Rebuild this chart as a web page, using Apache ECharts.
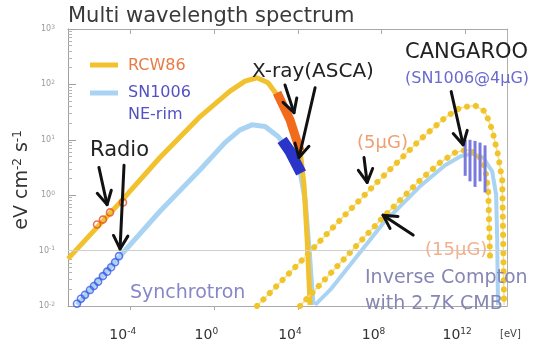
<!DOCTYPE html>
<html>
<head>
<meta charset="utf-8">
<script src="https://cdn.jsdelivr.net/npm/echarts@6/dist/echarts.min.js"></script>
<style>
html, body { margin: 0; padding: 0; background: #fff; }
#chart { width: 546px; height: 351px; }
</style>
</head>
<body>
<div id="chart"></div>
<script>
// Axes are in decades: x = log10(E / eV), y = log10(flux / eV cm^-2 s^-1)
const xTickValues = [-4, 0, 4, 8, 12];
const xTickLabels = ['10{s|-4}', '10{s|0}', '10{s|4}', '10{s|8}', '10{s|12}'];
const yTickValues = [-2, -1, 0, 1, 2, 3];
const yTickLabels = ['10{s|-2}', '10{s|-1}', '10{s|0}', '10{s|1}', '10{s|2}', '10{s|3}'];

// Synchrotron model spectra
const rcw86Sync = [[-7.00, -1.15], [-4.51, -0.13], [-2.60, 0.68], [-0.68, 1.42], [0.75, 1.88],
  [1.47, 2.06], [2.04, 2.12], [2.57, 2.03], [3.05, 1.78], [3.62, 1.36], [4.10, 0.82],
  [4.29, 0.19], [4.44, -0.80], [4.58, -1.98]];
const sn1006Sync = [[-6.57, -1.98], [-4.51, -1.10], [-2.60, -0.29], [-0.68, 0.46], [0.51, 0.95],
  [1.23, 1.18], [1.80, 1.27], [2.43, 1.24], [3.05, 1.06], [3.62, 0.79], [4.10, 0.43],
  [4.34, -0.08], [4.53, -0.97], [4.72, -1.98]];

// ASCA X-ray bands
const rcw86Xray = [[3.00, 1.85], [3.62, 1.36], [4.10, 0.80]];
const sn1006Xray = [[3.24, 1.00], [3.62, 0.79], [4.15, 0.40]];

// Radio points
const rcw86Radio = [[-5.61, -0.53], [-5.33, -0.44], [-4.99, -0.31], [-4.37, -0.13]];
const sn1006Radio = [[-6.57, -1.96], [-6.38, -1.87], [-6.19, -1.80], [-5.95, -1.71], [-5.76, -1.64],
  [-5.56, -1.56], [-5.33, -1.46], [-5.13, -1.38], [-4.94, -1.30], [-4.75, -1.21], [-4.56, -1.10]];

// Inverse Compton on the 2.7 K CMB
const ic5uG = [[2.04, -2.00], [4.10, -1.21], [6.01, -0.45], [7.78, 0.23], [9.84, 1.00], [11.04, 1.40],
  [11.76, 1.58], [12.47, 1.62], [12.95, 1.51], [13.29, 1.18], [13.57, 0.73], [13.77, 0.28],
  [13.81, -0.62], [13.86, -1.98]];
const ic15uG = [[4.10, -2.00], [6.01, -1.23], [8.07, -0.40], [9.84, 0.27], [10.80, 0.59], [11.52, 0.77],
  [12.09, 0.82], [12.62, 0.73], [12.95, 0.50], [13.10, 0.10], [13.14, -0.44], [13.19, -1.12]];
const icSN1006 = [[4.82, -1.98], [5.54, -1.71], [8.07, -0.51], [9.84, 0.16], [11.04, 0.54], [11.76, 0.70],
  [12.33, 0.75], [12.86, 0.68], [13.29, 0.43], [13.48, 0.01], [13.53, -0.79], [13.57, -1.98]];

// CANGAROO TeV points: [log E, upper, lower]
const cangaroo = [[12.00, 1.00, 0.35], [12.23, 1.00, 0.25], [12.47, 0.98, 0.15], [12.71, 0.95, 0.25], [12.95, 0.90, 0.05]];

// Pointer arrows: [tail x, tail y, tip x, tip y]
const arrows = [
  [-5.52, 0.50, -5.13, -0.17],
  [-4.32, 0.54, -4.51, -0.97],
  [3.38, 1.99, 3.81, 1.49],
  [4.82, 1.94, 4.05, 0.68],
  [7.16, 0.68, 7.31, 0.23],
  [11.33, 1.87, 11.90, 0.91],
  [9.51, -0.72, 8.07, -0.36]
];

// log-spaced minor ticks between decades
const yMinor = [];
for (let d = -2; d < 3; d++) for (let k = 2; k <= 9; k++) yMinor.push(d + Math.log10(k));

const FONT = 'DejaVu Sans';
const YELLOW = '#f2c12e';
const LBLUE = '#a9d3f2';
const DOT = '#f0c52c';

const chart = echarts.init(document.getElementById('chart'), null, { renderer: 'canvas' });

function dotted(name, data) {
  return [{
    name: name + '-base', type: 'line', data, symbol: 'none', silent: true, z: 3,
    lineStyle: { color: '#f6df8c', width: 1.5 }
  }, {
    name, type: 'line', data, symbol: 'none', silent: true, z: 4,
    lineStyle: { color: DOT, width: 6, type: [0.1, 9], cap: 'round' }
  }];
}

function txt(x, y, text, size, color, extra) {
  return {
    type: 'text', x, y, silent: true, z: 100,
    style: Object.assign({
      text, fill: color, font: size + 'px "' + FONT + '"',
      textAlign: 'left', textVerticalAlign: 'middle'
    }, extra || {})
  };
}

const option = {
  animation: false,
  backgroundColor: '#fff',
  grid: { left: 68, right: 39, top: 29, bottom: 45, show: false },
  xAxis: [{
    type: 'value', min: -7, max: 14, position: 'bottom',
    axisLine: { show: true, onZero: false, lineStyle: { color: '#a8a8a8', width: 1 } },
    axisTick: { show: true, customValues: xTickValues, length: 4, lineStyle: { color: '#a8a8a8' } },
    axisLabel: {
      show: true, customValues: xTickValues, margin: 21, padding: [0, 16, 0, 0],
      formatter: v => xTickLabels[xTickValues.indexOf(v)],
      color: '#333', fontSize: 14, fontFamily: FONT,
      rich: { s: { fontSize: 9, fontFamily: FONT, color: '#333', padding: [0, 0, 7, 0] } }
    },
    splitLine: { show: false }
  }, {
    type: 'value', min: -7, max: 14, position: 'top',
    axisLine: { show: true, onZero: false, lineStyle: { color: '#a8a8a8', width: 1 } },
    axisTick: { show: true, inside: true, customValues: xTickValues, length: 5, lineStyle: { color: '#a8a8a8' } },
    axisLabel: { show: false },
    splitLine: { show: false }
  }],
  yAxis: [{
    type: 'value', min: -2, max: 3, position: 'left',
    axisLine: { show: true, onZero: false, lineStyle: { color: '#a0a0a0', width: 1 } },
    axisTick: { show: true, inside: true, customValues: yTickValues, length: 8, lineStyle: { color: '#a0a0a0' } },
    axisLabel: {
      show: true, customValues: yTickValues, margin: 13,
      formatter: v => yTickLabels[yTickValues.indexOf(v)],
      color: '#9a9a9a', fontSize: 8, fontFamily: FONT,
      rich: { s: { fontSize: 6, fontFamily: FONT, color: '#9a9a9a', padding: [0, 0, 4, 0] } }
    },
    splitLine: { show: false }
  }, {
    type: 'value', min: -2, max: 3, position: 'left',
    axisLine: { show: false, onZero: false },
    axisTick: { show: true, inside: true, customValues: yMinor, length: 4, lineStyle: { color: '#b4b4b4' } },
    axisLabel: { show: false },
    splitLine: { show: false }
  }, {
    type: 'value', min: -2, max: 3, position: 'right',
    axisLine: { show: true, onZero: false, lineStyle: { color: '#b0b0b0', width: 1 } },
    axisTick: { show: false }, axisLabel: { show: false }, splitLine: { show: false }
  }],
  series: [
    {
      name: 'SN1006 NE-rim', type: 'line', data: sn1006Sync, symbol: 'none', z: 2,
      lineStyle: { color: LBLUE, width: 5 },
      markLine: {
        silent: true, symbol: 'none', label: { show: false },
        lineStyle: { color: '#cfcfcf', width: 1, type: 'solid' },
        data: [{ yAxis: -1 }]
      }
    },
    { name: 'SN1006 IC', type: 'line', data: icSN1006, symbol: 'none', z: 2, lineStyle: { color: LBLUE, width: 4 } },
    { name: 'RCW86', type: 'line', data: rcw86Sync, symbol: 'none', z: 3, lineStyle: { color: YELLOW, width: 5 } },
    ...dotted('5uG', ic5uG),
    ...dotted('15uG', ic15uG),
    { name: 'RCW86 ASCA', type: 'line', data: rcw86Xray, symbol: 'none', z: 6, lineStyle: { color: '#f26a1b', width: 9, cap: 'butt' } },
    { name: 'SN1006 ASCA', type: 'line', data: sn1006Xray, symbol: 'none', z: 6, lineStyle: { color: '#2b34c9', width: 11, cap: 'butt' } },
    {
      name: 'RCW86 radio', type: 'scatter', data: rcw86Radio, symbol: 'circle', symbolSize: 7, z: 7,
      itemStyle: { color: 'rgba(255,255,255,0)', borderColor: '#e4502a', borderWidth: 1.6 }
    },
    {
      name: 'SN1006 radio', type: 'scatter', data: sn1006Radio, symbol: 'circle', symbolSize: 7, z: 7,
      itemStyle: { color: 'rgba(255,255,255,0)', borderColor: '#3f5ae6', borderWidth: 1.6 }
    },
    {
      name: 'CANGAROO', type: 'custom', data: cangaroo, z: 7,
      encode: { x: 0, y: [1, 2] },
      renderItem: (params, api) => {
        const a = api.coord([api.value(0), api.value(1)]);
        const b = api.coord([api.value(0), api.value(2)]);
        return {
          type: 'line', shape: { x1: a[0], y1: a[1], x2: b[0], y2: b[1] },
          style: { stroke: '#7a7ade', lineWidth: 3 }
        };
      }
    },
    {
      name: 'arrows', type: 'custom', data: arrows, z: 9,
      encode: { x: [0, 2], y: [1, 3] },
      renderItem: (params, api) => {
        const t = api.coord([api.value(0), api.value(1)]);
        const p = api.coord([api.value(2), api.value(3)]);
        const ang = Math.atan2(p[1] - t[1], p[0] - t[0]);
        const L = 15, w = 0.5;
        const h1 = [p[0] - L * Math.cos(ang - w), p[1] - L * Math.sin(ang - w)];
        const h2 = [p[0] - L * Math.cos(ang + w), p[1] - L * Math.sin(ang + w)];
        const st = { stroke: '#111', lineWidth: 3, lineCap: 'round', lineJoin: 'round', fill: null };
        return {
          type: 'group', children: [
            { type: 'line', shape: { x1: t[0], y1: t[1], x2: p[0], y2: p[1] }, style: st },
            { type: 'polyline', shape: { points: [h1, p, h2] }, style: st }
          ]
        };
      }
    }
  ],
  graphic: [
    txt(68, 17, 'Multi wavelength spectrum', 21, '#3a3a3a'),
    // legend
    { type: 'line', silent: true, shape: { x1: 90, y1: 65, x2: 118, y2: 65 }, style: { stroke: YELLOW, lineWidth: 5 } },
    txt(128, 66, 'RCW86', 16, '#e97b46'),
    { type: 'line', silent: true, shape: { x1: 90, y1: 93, x2: 118, y2: 93 }, style: { stroke: LBLUE, lineWidth: 5 } },
    txt(128, 93, 'SN1006', 16, '#5252c4'),
    txt(128, 115, 'NE-rim', 16, '#5252c4'),
    // annotations
    txt(90, 151, 'Radio', 21, '#222'),
    txt(252, 72, 'X-ray(ASCA)', 20, '#222'),
    txt(405, 53, 'CANGAROO', 21, '#222'),
    txt(405, 79, '(SN1006@4μG)', 16, '#6a6ad0'),
    txt(357, 143, '(5μG)', 18, '#f0a070'),
    txt(425, 250, '(15μG)', 18, '#f3b08c'),
    txt(130, 293, 'Synchrotron', 19, '#8787c8'),
    txt(365, 278, 'Inverse Compton', 19, '#8686b4'),
    txt(365, 304, 'with 2.7K CMB', 19, '#8686b4'),
    txt(500, 334, '[eV]', 10, '#444'),
    {
      type: 'text', x: 22, y: 180, rotation: Math.PI / 2, silent: true, z: 100,
      style: {
        text: 'eV cm{s|-2} s{s|-1}', fill: '#333', font: '19px "' + FONT + '"',
        textAlign: 'center', textVerticalAlign: 'middle',
        rich: { s: { fontSize: 12, fontFamily: FONT, fill: '#333', padding: [0, 0, 8, 0] } }
      }
    }
  ]
};

chart.setOption(option);
</script>
</body>
</html>
